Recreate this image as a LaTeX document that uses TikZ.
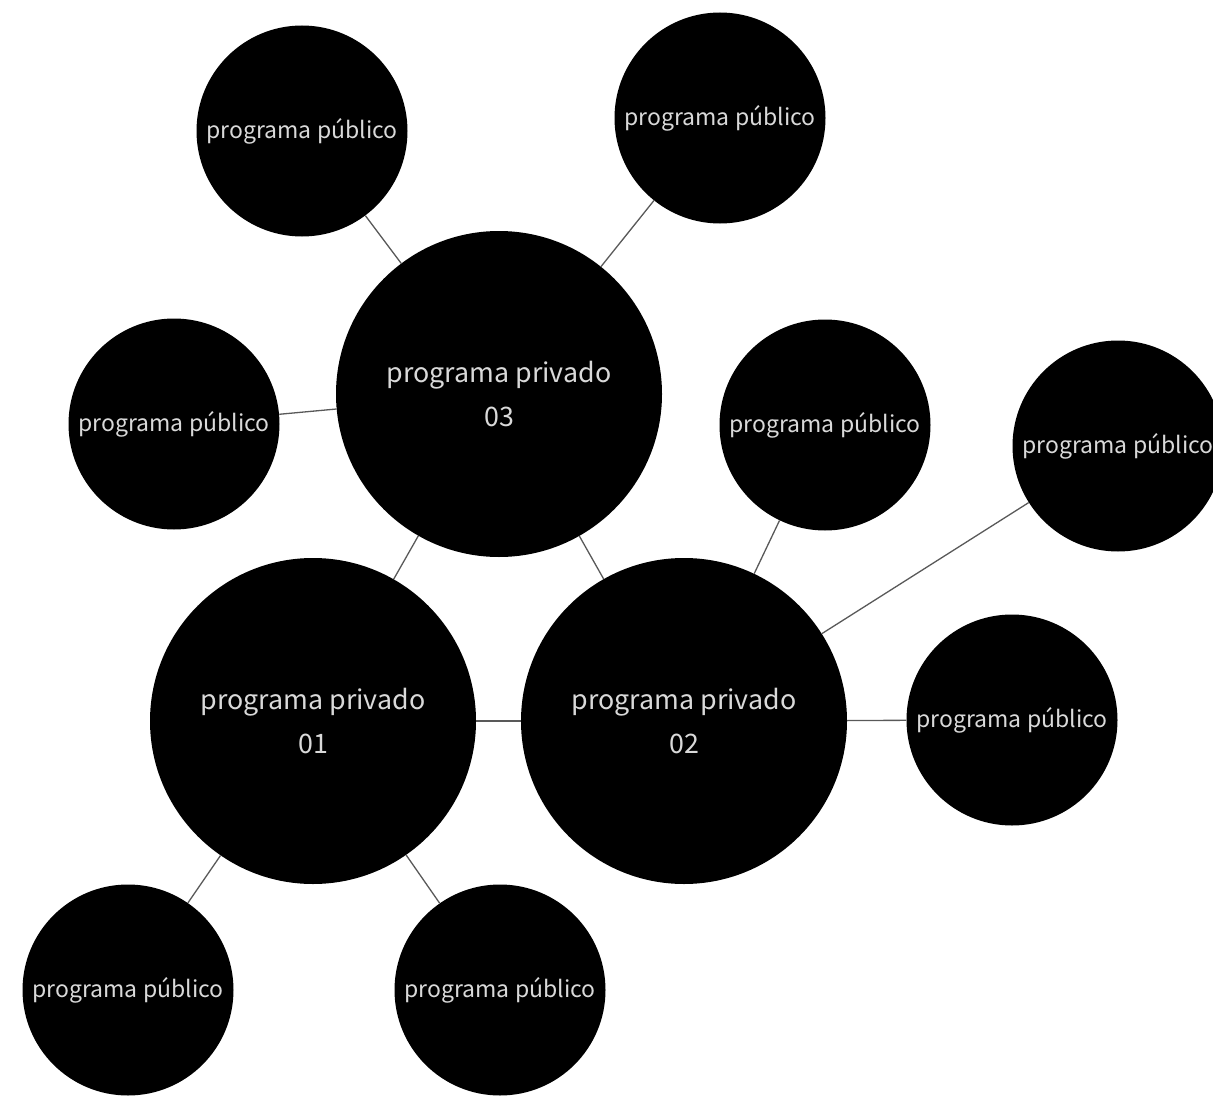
\documentclass[tikz,border=0pt]{standalone}
\usepackage{fontspec}
\setmainfont{Noto Sans CJK JP}[Scale=1]
\definecolor{txt}{HTML}{D9D9D9}
\definecolor{lin}{HTML}{595959}
\begin{document}
\begin{tikzpicture}[x=1pt,y=-1pt,
  pub/.style={circle,fill=black,inner sep=0pt,minimum size=211pt,text=txt,font=\fontsize{23}{27}\selectfont},
  priv/.style={circle,fill=black,inner sep=0pt,minimum size=326pt,text=txt,align=center,font=\fontsize{26.8}{44}\selectfont},
  conn/.style={draw=lin,line width=1.3pt}]
\useasboundingbox (0,0) rectangle (1213,1097);
\node[priv] (p3) at (499,394) {programa privado\\03};
\node[priv] (p1) at (313,721) {programa privado\\01};
\node[priv] (p2) at (684,721) {programa privado\\02};
\node[pub] (a) at (302,131) {programa público};
\node[pub] (b) at (720,118) {programa público};
\node[pub] (c) at (174,424) {programa público};
\node[pub] (d) at (825,425) {programa público};
\node[pub] (e) at (1118,446) {programa público};
\node[pub] (f) at (1012,720) {programa público};
\node[pub] (g) at (128,990) {programa público};
\node[pub] (h) at (500,990) {programa público};
\draw[conn] (a) -- (p3);
\draw[conn] (b) -- (p3);
\draw[conn] (c) -- (p3);
\draw[conn] (p3) -- (p1);
\draw[conn] (p3) -- (p2);
\draw[conn] (p1) -- (p2);
\draw[conn] (d) -- (p2);
\draw[conn] (e) -- (p2);
\draw[conn] (f) -- (p2);
\draw[conn] (g) -- (p1);
\draw[conn] (h) -- (p1);
\end{tikzpicture}
\end{document}
